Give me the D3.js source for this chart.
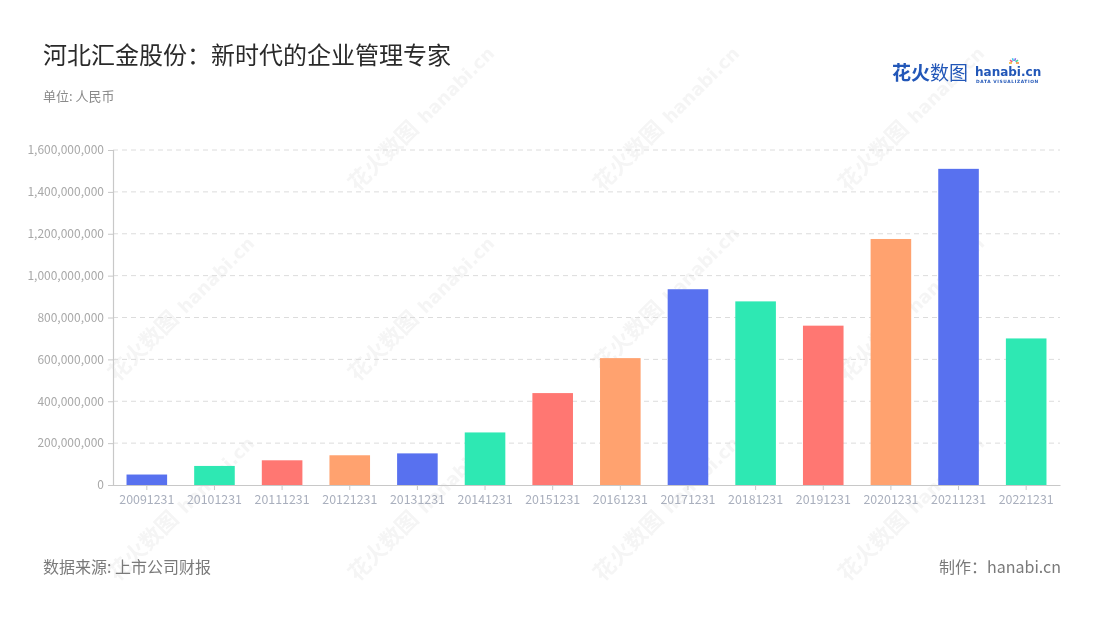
<!DOCTYPE html>
<html><head><meta charset="utf-8">
<script src="https://cdn.jsdelivr.net/npm/d3@7/dist/d3.min.js"></script>
<style>body{margin:0;background:#fff;font-family:"Noto Sans CJK SC","Noto Sans",sans-serif;}</style>
</head><body><svg id="c" width="1100" height="620"></svg>
<script>
const categories = ["20091231","20101231","20111231","20121231","20131231","20141231","20151231","20161231","20171231","20181231","20191231","20201231","20211231","20221231"];
const values = [50000000,91000000,118000000,142000000,151000000,251000000,439000000,606000000,935000000,877000000,761000000,1175000000,1510000000,700000000];
const yTicks = [0,200000000,400000000,600000000,800000000,1000000000,1200000000,1400000000,1600000000];
const palette = ["#5871EF","#2EE8B3","#FF7772","#FFA26F"];

const svg = d3.select("#c");
const font = '"Noto Sans CJK SC","Noto Sans",sans-serif';
const m = {l:113, r:1060, t:150, b:485};

// watermarks
const wm = svg.append("g").attr("opacity",0.06);
[[160,340],[400,150],[645,150],[890,150],[400,340],[645,330],[890,340],[160,540],[400,540],[645,540],[890,540]].forEach(([x,y])=>{
  const g = wm.append("g").attr("transform",`translate(${x},${y}) rotate(-45)`);
  g.append("text").attr("x",-60).attr("y",0).attr("font-family",font).attr("font-size",22).attr("font-weight","bold").attr("fill","#555").text("花火数图");
  g.append("text").attr("x",36).attr("y",0).attr("font-family","DejaVu Sans").attr("font-size",18).attr("font-weight","bold").attr("fill","#555").text("hanabi.cn");
});

const x = d3.scaleBand().domain(categories).range([m.l,m.r]).paddingInner(0.4).paddingOuter(0.2);
const y = d3.scaleLinear().domain([0,1600000000]).range([m.b,m.t]);

// grid
svg.append("g").selectAll("line").data(yTicks.filter(d=>d>0)).join("line")
  .attr("x1",m.l).attr("x2",m.r).attr("y1",d=>y(d)).attr("y2",d=>y(d))
  .attr("stroke","#dcdcdc").attr("stroke-dasharray","5,4");

// bars
svg.append("g").selectAll("rect").data(values).join("rect")
  .attr("x",(d,i)=>x(categories[i])).attr("width",x.bandwidth())
  .attr("y",d=>y(d)).attr("height",d=>m.b-y(d))
  .attr("fill",(d,i)=>palette[i%4]);

// y axis
const ya = svg.append("g").attr("transform",`translate(${m.l},0)`)
  .call(d3.axisLeft(y).tickValues(yTicks).tickSize(5).tickPadding(4).tickFormat(d3.format(",")));
ya.select(".domain").attr("stroke","#c8c8c8").attr("stroke-width",1.2);
ya.selectAll(".tick line").attr("stroke","#c8c8c8");
ya.selectAll("text").attr("fill","#a8a8a8").attr("font-size",12).attr("font-family",font);

// x axis
const xa = svg.append("g").attr("transform",`translate(0,${m.b})`)
  .call(d3.axisBottom(x).tickSize(5).tickPadding(5).tickSizeOuter(0));
xa.select(".domain").attr("stroke","#c8c8c8").attr("stroke-width",1.2);
xa.selectAll(".tick line").attr("stroke","#c8c8c8");
xa.selectAll("text").attr("fill","#a9afbd").attr("font-size",12.4).attr("font-family",font);

// title
svg.append("text").attr("x",43).attr("y",64).attr("font-family",font).attr("font-size",24).attr("fill","#2a2a2a").text("河北汇金股份：新时代的企业管理专家");
svg.append("text").attr("x",43).attr("y",101).attr("font-family",font).attr("font-size",13).attr("fill","#8a8a8a").text("单位: 人民币");

// logo
svg.append("text").attr("x",892).attr("y",80).attr("font-family",font).attr("font-size",19).attr("font-weight","bold").attr("fill","#2257b8").text("花火");
svg.append("text").attr("x",930).attr("y",80).attr("font-family",font).attr("font-size",19).attr("fill","#2257b8").text("数图");
svg.append("text").attr("x",975).attr("y",76).attr("font-family","DejaVu Sans").attr("font-size",12).attr("font-weight","bold").attr("fill","#2257b8").text("hanabi.cn");
svg.append("text").attr("x",976).attr("y",82.5).attr("font-family","DejaVu Sans").attr("font-size",4.4).attr("font-weight","bold").attr("fill","#2257b8").attr("letter-spacing",0.6).text("DATA VISUALIZATION");
const sp = svg.append("g").attr("transform","translate(1014,63)");
["#f5b324","#ee5a7a","#37c6e6","#8a6be6","#42d49b","#f08a3c"].forEach((c,i)=>{
  const a = -Math.PI + i*Math.PI/5;
  sp.append("line").attr("x1",Math.cos(a)*2).attr("y1",Math.sin(a)*2).attr("x2",Math.cos(a)*5).attr("y2",Math.sin(a)*5).attr("stroke",c).attr("stroke-width",1.5);
});

// footer
svg.append("text").attr("x",43).attr("y",573).attr("font-family",font).attr("font-size",16).attr("fill","#7a7a7a").text("数据来源: 上市公司财报");
svg.append("text").attr("x",1061).attr("y",573).attr("text-anchor","end").attr("font-family",font).attr("font-size",16).attr("fill","#7a7a7a").text("制作：hanabi.cn");
</script></body></html>
